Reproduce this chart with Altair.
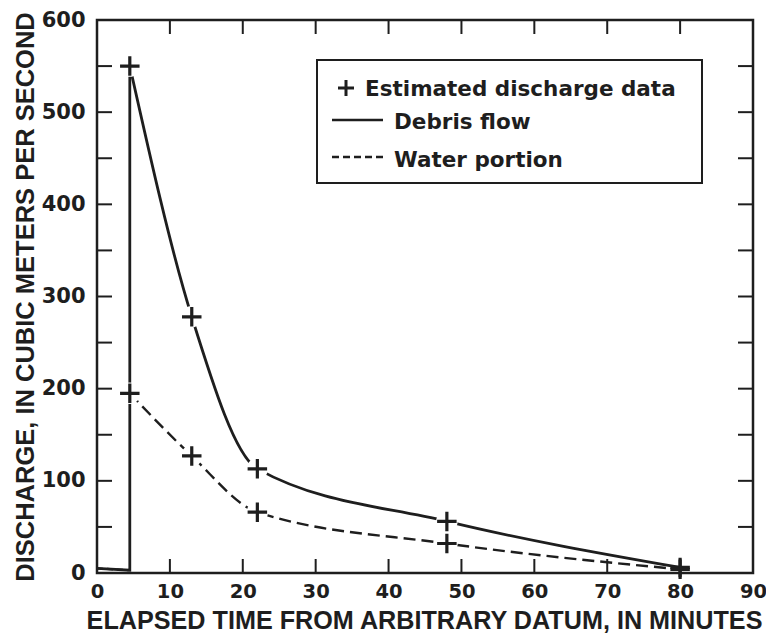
import altair as alt
import pandas as pd

# ---- data ----
time_min = [4.5, 13, 22, 48, 80]
debris_q = [550, 278, 113, 56, 6]
water_q = [195, 127, 66, 32, 4]

lead_time = [0, 4.5, 4.5]
debris_lead = [5, 3, 550]
water_lead_time = [0, 4.5]
water_lead = [5, 3]

x_labels = [0, 10, 20, 30, 40, 50, 60, 70, 80, 90]
y_labels = [0, 100, 200, 300, 400, 500, 600]
x_minor = [10, 20, 30, 40, 50, 60, 70, 80]
y_minor = [50, 100, 150, 200, 250, 300, 350, 400, 450, 500, 550]

legend_labels = ["Estimated discharge data", "Debris flow", "Water portion"]
x_title = "ELAPSED TIME FROM ARBITRARY DATUM, IN MINUTES"
y_title = "DISCHARGE, IN CUBIC METERS PER SECOND"

# ---- tables ----
pts = pd.DataFrame({"t": time_min * 2, "q": debris_q + water_q})
debris_df = pd.DataFrame({"t": time_min, "q": debris_q})
water_df = pd.DataFrame({"t": time_min, "q": water_q})
lead_df = pd.DataFrame({"t": lead_time, "q": debris_lead, "i": list(range(len(lead_time)))})
wlead_df = pd.DataFrame({"t": water_lead_time, "q": water_lead})
xt_df = pd.DataFrame({"t": x_minor})
yt_df = pd.DataFrame({"q": y_minor})
one = pd.DataFrame({"k": [0]})

INK = "#1e1e1e"
W, H = 656, 553
TICK = 14
xs = alt.Scale(domain=[0, 90], nice=False, zero=False)
ys = alt.Scale(domain=[0, 600], nice=False)

x_axis = alt.Axis(values=x_labels, format="d", ticks=False, domain=False, grid=False,
                  labelFont="DejaVu Sans", labelFontWeight="bold", labelFontSize=19.5,
                  labelColor=INK, labelPadding=9, labelFlush=False, labelOverlap=False,
                  title=x_title, titleFont="Liberation Sans", titleFontWeight="bold",
                  titleFontSize=25.2, titleColor=INK, titleX=327, titleY=55,
                  titleAlign="center", titleBaseline="alphabetic")
y_axis = alt.Axis(values=y_labels, format="d", ticks=False, domain=False, grid=False,
                  labelFont="DejaVu Sans", labelFontWeight="bold", labelFontSize=21,
                  labelColor=INK, labelPadding=12, labelOverlap=False,
                  title=y_title, titleFont="Liberation Sans", titleFontWeight="bold",
                  titleFontSize=25.5, titleColor=INK, titleX=-64, titleY=H / 2,
                  titleAngle=270, titleAlign="center", titleBaseline="alphabetic")


def X(field="t"):
    return alt.X(f"{field}:Q", scale=xs, axis=x_axis)


def Y(field="q"):
    return alt.Y(f"{field}:Q", scale=ys, axis=y_axis)


# inward ticks on all four sides
tick_bottom = alt.Chart(xt_df).mark_rule(color=INK, strokeWidth=2).encode(
    x=X(), y=alt.value(H), y2=alt.value(H - TICK))
tick_top = alt.Chart(xt_df).mark_rule(color=INK, strokeWidth=2).encode(
    x=X(), y=alt.value(0), y2=alt.value(TICK))
tick_left = alt.Chart(yt_df).mark_rule(color=INK, strokeWidth=2).encode(
    y=Y(), x=alt.value(0), x2=alt.value(TICK + 1))
tick_right = alt.Chart(yt_df).mark_rule(color=INK, strokeWidth=2).encode(
    y=Y(), x=alt.value(W - TICK - 1), x2=alt.value(W))

debris_line = alt.Chart(debris_df).mark_line(
    color=INK, strokeWidth=2.8, interpolate="monotone").encode(x=X(), y=Y())
lead_line = alt.Chart(lead_df).mark_line(color=INK, strokeWidth=2.8).encode(
    x=X(), y=Y(), order=alt.Order("i:Q"))
water_line = alt.Chart(water_df).mark_line(
    color=INK, strokeWidth=2.4, strokeDash=[12, 6], interpolate="monotone").encode(
    x=X(), y=Y())
wlead_line = alt.Chart(wlead_df).mark_line(
    color=INK, strokeWidth=2.2, strokeDash=[6, 4]).encode(x=X(), y=Y())

# white gap around each data cross, as in the original drawing
halo = alt.Chart(pts).transform_filter("datum.t < 70").mark_point(
    shape="circle", filled=True, color="white", opacity=1, size=460).encode(x=X(), y=Y())
crosses = alt.Chart(pts).mark_point(
    shape="M-1,0H1M0,-1V1", filled=False, color=INK, opacity=1, size=380,
    strokeWidth=3.2).encode(x=X(), y=Y())

# legend box
leg_box = alt.Chart(one).mark_rect(fill="white", stroke=INK, strokeWidth=2).encode(
    x=alt.value(220), x2=alt.value(605), y=alt.value(40), y2=alt.value(163))
leg_plus = alt.Chart(one).mark_point(
    shape="M-1,0H1M0,-1V1", filled=False, color=INK, opacity=1, size=256,
    strokeWidth=3).encode(x=alt.value(249), y=alt.value(68))
leg_solid = alt.Chart(one).mark_rule(color=INK, strokeWidth=2.5).encode(
    x=alt.value(235), x2=alt.value(286), y=alt.value(100))
leg_dash = alt.Chart(one).mark_rule(color=INK, strokeWidth=2.5, strokeDash=[7, 4]).encode(
    x=alt.value(235), x2=alt.value(286), y=alt.value(137))


def leg_text(label, x, y):
    return alt.Chart(one).mark_text(
        align="left", baseline="alphabetic", font="DejaVu Sans", fontWeight="bold",
        fontSize=21.5, color=INK).encode(x=alt.value(x), y=alt.value(y), text=alt.value(label))


t1 = leg_text(legend_labels[0], 268, 76)
t2 = leg_text(legend_labels[1], 297, 109)
t3 = leg_text(legend_labels[2], 297, 147)

chart = alt.layer(
    debris_line, tick_bottom, tick_top, tick_left, tick_right,
    lead_line, wlead_line, water_line, halo, crosses,
    leg_box, leg_plus, leg_solid, leg_dash, t1, t2, t3,
).properties(
    width=W, height=H, background="white",
    autosize=alt.AutoSizeParams(type="none"),
    padding={"left": 89, "top": 12, "right": 13, "bottom": 61},
).configure_view(stroke=INK, strokeWidth=2.5)

chart.save("out.html", embed_options={"renderer": "svg", "actions": False})
